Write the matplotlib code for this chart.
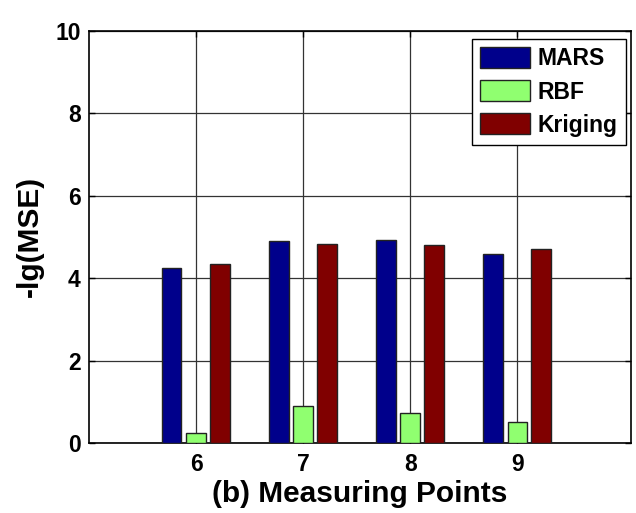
import matplotlib
matplotlib.use("Agg")
import matplotlib.pyplot as plt
import numpy as np

plt.rcParams['font.family'] = ['Liberation Sans', 'DejaVu Sans']
plt.rcParams['font.weight'] = 'bold'

points = [6, 7, 8, 9]
series_names = ["MARS", "RBF", "Kriging"]
mars = [4.25, 4.89, 4.92, 4.59]
rbf = [0.24, 0.90, 0.73, 0.51]
kriging = [4.35, 4.83, 4.80, 4.70]
colors = ["#00008B", "#90FF70", "#800000"]

W, H = 636, 513
fig = plt.figure(figsize=(W / 100, H / 100), dpi=100)
left, right, top, bottom = 89, 631, 30.5, 443.3
ax = fig.add_axes([left / W, 1 - bottom / H, (right - left) / W, (bottom - top) / H])

x = np.array(points, dtype=float)
offsets = [-0.23, 0.0, 0.22]
width = 0.185
for vals, off, c, name in zip([mars, rbf, kriging], offsets, colors, series_names):
    ax.bar(x + off, vals, width=width, color=c, edgecolor="#222222", linewidth=1.0,
           label=name, zorder=3)

ax.set_xlim(5, 10.06)
ax.set_ylim(0, 10)
ax.set_xticks(points)
ax.set_yticks([0, 2, 4, 6, 8, 10])
ax.tick_params(direction='in', top=True, right=True, labelsize=16.5, length=4, width=1,
               pad=6)
ax.tick_params(axis='x', pad=7)
for lab in ax.get_xticklabels() + ax.get_yticklabels():
    lab.set_fontweight('bold')
ax.grid(True, color='#333333', linewidth=0.9, linestyle='-', zorder=0)
ax.set_axisbelow(True)
for s in ax.spines.values():
    s.set_linewidth(1.2)

ax.set_ylabel("-lg(MSE)", fontsize=21.5, fontweight='bold', labelpad=8)
ax.set_xlabel("(b) Measuring Points", fontsize=21.5, fontweight='bold', labelpad=3)

leg_x = 625.7 / W
leg_y = 1 - 39 / H
leg = ax.legend(loc='upper right', bbox_to_anchor=(leg_x, leg_y),
                bbox_transform=fig.transFigure,
                prop={'weight': 'bold', 'size': 16.5},
                frameon=True, fancybox=False, edgecolor='black', framealpha=1,
                handlelength=2.15, handleheight=1.05, borderpad=0.35, labelspacing=0.42,
                handletextpad=0.35, borderaxespad=0.0)
leg.get_frame().set_linewidth(1.0)

fig.savefig("out.png", dpi=100)
